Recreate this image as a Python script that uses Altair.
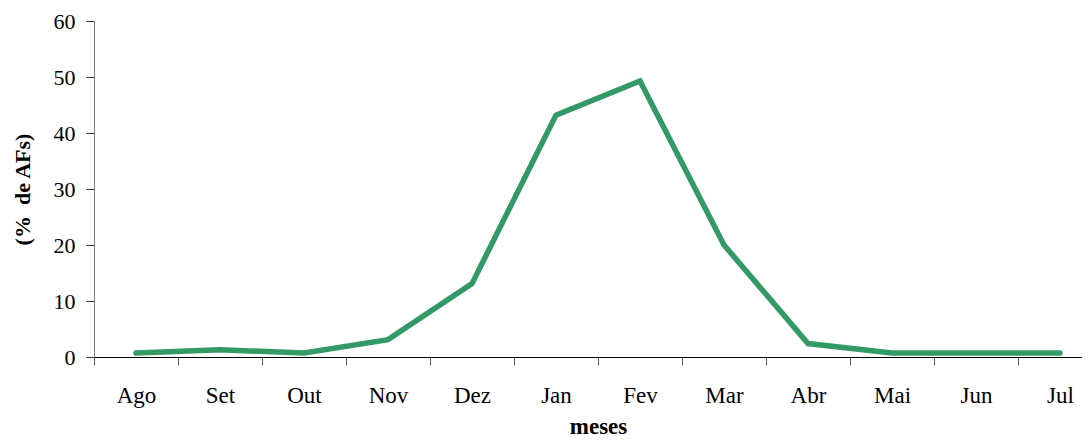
import altair as alt
import pandas as pd

meses = ["Ago", "Set", "Out", "Nov", "Dez", "Jan", "Fev", "Mar", "Abr", "Mai", "Jun", "Jul"]
valores = [0.7, 1.3, 0.7, 3.1, 13.1, 43.2, 49.3, 20.0, 2.4, 0.7, 0.7, 0.7]

df = pd.DataFrame({"mes": meses, "valor": valores})

font = "Liberation Serif"

chart = alt.Chart(df).mark_line(color="#339966", strokeWidth=5.5, strokeCap="round", strokeJoin="miter").encode(
    x=alt.X("mes:N", sort=meses, bandPosition=0.5,
            scale=alt.Scale(type="band", paddingInner=0, paddingOuter=0, range=[0, 1008]),
            axis=alt.Axis(title="meses", labelAngle=0, tickBand="extent",
                          domainColor="#000000", tickColor="#555555", tickSize=8,
                          labelFont=font, labelFontSize=23, labelColor="#000000",
                          labelPadding=19,
                          titleFont=font, titleFontSize=23, titleFontWeight="bold",
                          titleColor="#000000", titleBaseline="alphabetic",
                          titleX=504, titleY=76, titleAlign="center")),
    y=alt.Y("valor:Q", scale=alt.Scale(domain=[0, 60], nice=False),
            axis=alt.Axis(title="(%\u00a0 de AFs)", values=[0, 10, 20, 30, 40, 50, 60],
                          grid=False, domainColor="#808080", tickColor="#333333", tickSize=8,
                          labelFont=font, labelFontSize=22, labelColor="#000000",
                          labelPadding=11,
                          titleFont=font, titleFontSize=22, titleFontWeight="bold",
                          titleColor="#000000", titleAngle=-90, titleBaseline="middle",
                          titleAlign="center", titleX=-72, titleY=168)),
).properties(
    width=988, height=336, autosize="none",
    padding={"left": 86, "top": 13, "right": 0, "bottom": 83},
).configure_view(stroke=None)

chart.save("out.html", embed_options={"renderer": "svg", "actions": False})
